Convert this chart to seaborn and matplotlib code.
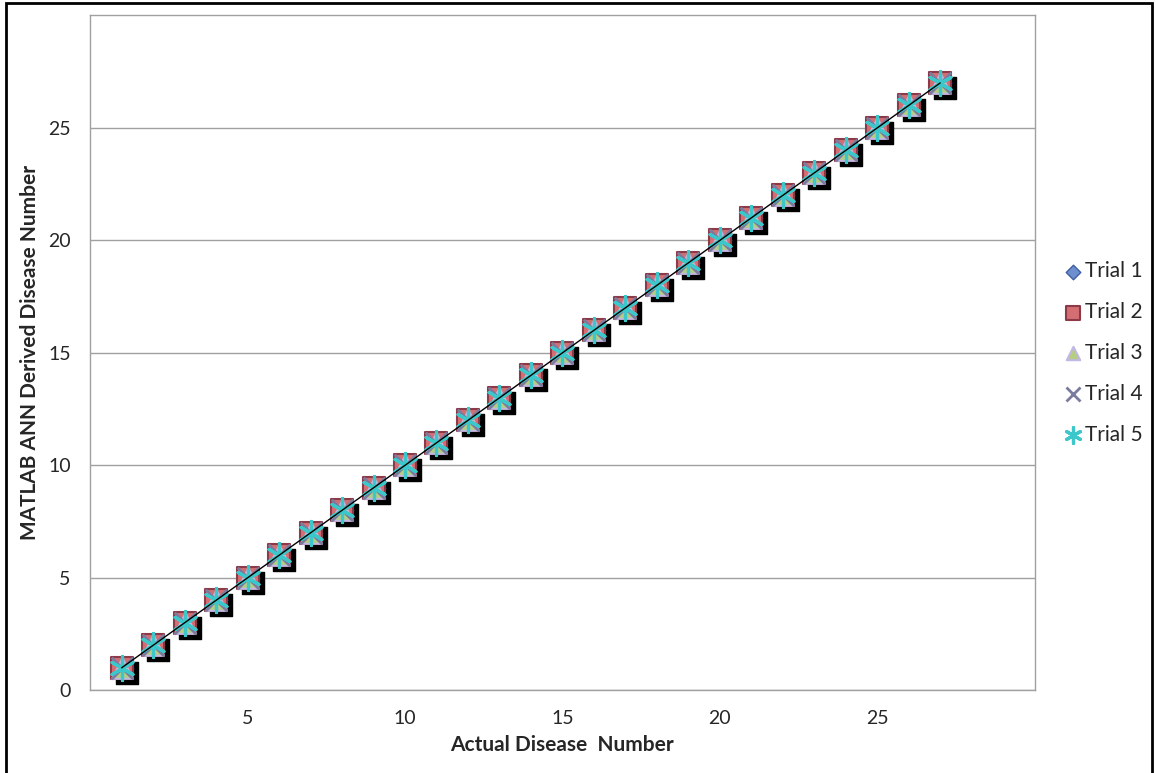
import numpy as np
import pandas as pd
import matplotlib
matplotlib.use("Agg")
import matplotlib.pyplot as plt
import matplotlib.transforms as mtransforms
from matplotlib.patches import Rectangle
import seaborn as sns

# data: actual disease number vs ANN derived number for 5 trials
actual = list(range(1, 28))
trial_1 = list(range(1, 28))
trial_2 = list(range(1, 28))
trial_3 = list(range(1, 28))
trial_4 = list(range(1, 28))
trial_5 = list(range(1, 28))
trial_names = ["Trial 1", "Trial 2", "Trial 3", "Trial 4", "Trial 5"]
x_ticks = [5, 10, 15, 20, 25]
y_ticks = [0, 5, 10, 15, 20, 25]

sns.set_style("white")
plt.rcParams["font.family"] = ["Lato", "DejaVu Sans"]

fig = plt.figure(figsize=(11.56, 7.73), dpi=100)
ax = fig.add_axes([0.078, 0.107, 0.817, 0.873])

series = [trial_1, trial_2, trial_3, trial_4, trial_5]
styles = [
    dict(marker="D", s=130, color="#6D8FCF", edgecolor="#3F5F9F", linewidth=1),
    dict(marker="s", s=240, color="#D46E72", edgecolor="#8C3A48", linewidth=1.5),
    dict(marker="^", s=220, color="#B5CE82", edgecolor="#C3B8E2", linewidth=1.5),
    dict(marker="x", s=240, color="#7B7BA0", linewidth=2),
    dict(marker=(6, 2, 0), s=300, color="#3CC8CA", linewidth=2.3),
]

# drop shadow for the square markers
shadow = ax.transData + mtransforms.ScaledTranslation(5 / 100, -5 / 100, fig.dpi_scale_trans)
ax.scatter(actual, trial_2, marker="s", s=240, color="black", transform=shadow, zorder=1)

for i, (name, y, st) in enumerate(zip(trial_names, series, styles)):
    sns.scatterplot(x=actual, y=y, ax=ax, label=name, zorder=2 + i, **st)

sns.lineplot(x=actual, y=trial_1, ax=ax, color="black", linewidth=1, zorder=10)

ax.set_xlim(0, 30)
ax.set_ylim(0, 30)
ax.set_xticks(x_ticks)
ax.set_yticks(y_ticks)
ax.tick_params(labelsize=14, length=0, pad=14)
ax.yaxis.grid(True, color="#A0A0A0", linewidth=1)
ax.xaxis.grid(False)
for sp in ax.spines.values():
    sp.set_color("#A0A0A0")
    sp.set_linewidth(1)

ax.set_xlabel("Actual Disease  Number", fontsize=15, fontweight="bold", labelpad=6)
ax.set_ylabel("MATLAB ANN Derived Disease Number", fontsize=15, fontweight="bold", labelpad=6)

leg = ax.legend(loc="center left", bbox_to_anchor=(1.01, 0.5), frameon=False,
                fontsize=15, markerscale=0.65, handletextpad=0.05, labelspacing=1.0,
                handlelength=1.0)

fig.patches.append(Rectangle((6 / 1156, -0.01), 1146 / 1156, 1 - 3 / 773 + 0.01,
                             transform=fig.transFigure, fill=False,
                             edgecolor="black", linewidth=2))

fig.savefig("out.png", dpi=100)
